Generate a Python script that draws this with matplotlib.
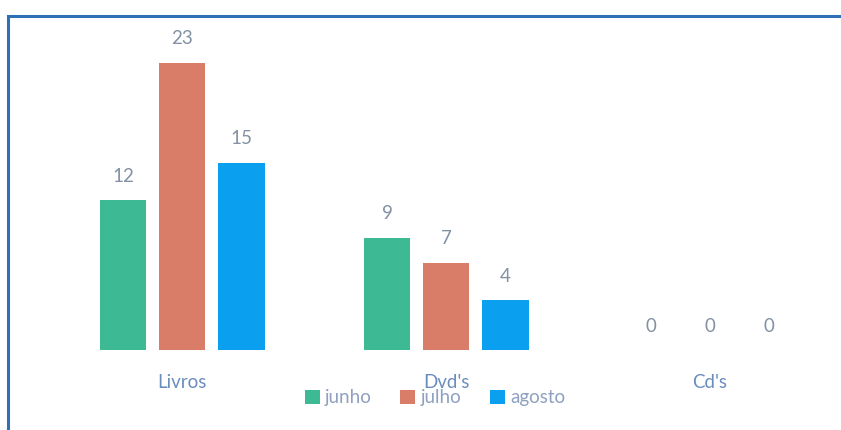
import numpy as np
import matplotlib.pyplot as plt
from matplotlib.patches import Rectangle

categorias = ["Livros", "Dvd's", "Cd's"]
series = ["junho", "julho", "agosto"]
junho = [12, 9, 0]
julho = [23, 7, 0]
agosto = [15, 4, 0]
cores = ['#3dba94', '#da7d68', '#0b9ff0']

W, H = 841, 430
fig = plt.figure(figsize=(W / 100, H / 100), dpi=100)
plt.rcParams['font.family'] = ['Lato', 'DejaVu Sans']

# moldura azul
fig.patches.append(Rectangle((8 / W, -0.1), 1.2, (H - 16) / H + 0.1, transform=fig.transFigure,
                             fill=False, edgecolor='#2f6fb5', linewidth=2.2))

ax = fig.add_axes([50 / W, 80 / H, 792 / W, 312.5 / H])
x = np.arange(len(categorias))
largura = 0.178
passo = 0.2235
for i, (nome, vals) in enumerate(zip(series, [junho, julho, agosto])):
    bars = ax.bar(x + (i - 1) * passo, vals, largura, color=cores[i], label=nome)
    for b, v in zip(bars, vals):
        ax.annotate(str(v), (b.get_x() + b.get_width() / 2, v), xytext=(0, 11),
                    textcoords='offset points', ha='center', va='bottom',
                    fontsize=13.5, color='#8391a3')

ax.set_xlim(-0.5, 2.5)
ax.set_ylim(0, 25)
ax.set_yticks([])
ax.set_xticks(x)
ax.set_xticklabels(categorias, fontsize=13.5, color='#6a8dbd')
ax.tick_params(axis='x', length=0, pad=17)
for s in ax.spines.values():
    s.set_visible(False)

leg = fig.legend(loc='center', bbox_to_anchor=(435 / W, 1 - 398 / H), ncol=3, frameon=False,
                 fontsize=13.5, handlelength=0.8, handleheight=0.8, handletextpad=0.3,
                 columnspacing=1.5)
for t in leg.get_texts():
    t.set_color('#8fa0c0')

fig.savefig('out.png', dpi=100)
